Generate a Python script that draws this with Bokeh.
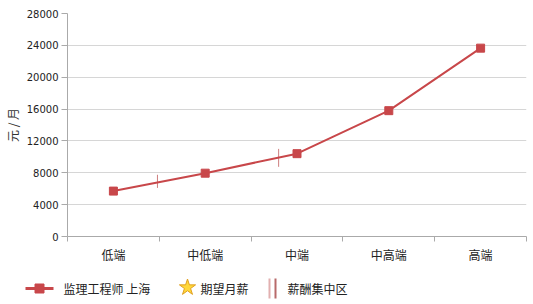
from bokeh.plotting import figure
from bokeh.layouts import column
from bokeh.models import Range1d, FixedTicker, NumeralTickFormatter
from bokeh.core.properties import value
from bokeh.embed import file_html
from bokeh.resources import INLINE

# Salary levels (yuan / month) per tier
categories = ["低端", "中低端", "中端", "中高端", "高端"]
salary = [5700, 7950, 10400, 15800, 23650]

# Salary concentration ranges: position along the tier axis, low and high values
range_pos = [0.98, 2.30]
range_low = [6100, 8750]
range_high = [7750, 11000]

y_ticks = [0, 4000, 8000, 12000, 16000, 20000, 24000, 28000]

series_name = "监理工程师 上海"
legend_labels = [series_name, "期望月薪", "薪酬集中区"]

CJK = "Noto Sans CJK SC"
RED = "#c8474a"

x_pos = [i + 0.5 for i in range(len(categories))]

p = figure(width=533, height=265, output_backend="svg", toolbar_location=None,
           x_range=Range1d(0, len(categories)), y_range=Range1d(0, 28000),
           min_border_left=66, min_border_right=7, min_border_top=13,
           min_border_bottom=28)
p.frame_align = False
p.outline_line_color = None
p.background_fill_color = "white"
p.border_fill_color = "white"

p.xgrid.grid_line_color = None
p.ygrid.grid_line_color = "#d6d6d6"
p.ygrid.ticker = FixedTicker(ticks=y_ticks)

# x axis: tick marks on tier boundaries, labels centred in each tier
xa = p.xaxis[0]
xa.ticker = FixedTicker(ticks=x_pos, minor_ticks=list(range(len(categories) + 1)))
xa.major_label_overrides = {x: c for x, c in zip(x_pos, categories)}
xa.major_tick_out = 0
xa.major_tick_in = 0
xa.minor_tick_out = 5
xa.minor_tick_in = 0
xa.minor_tick_line_color = "#aaaaaa"
xa.axis_line_color = "#aaaaaa"
xa.axis_line_width = 1
xa.major_label_standoff = 4
xa.major_label_text_font = CJK
xa.major_label_text_font_size = "12px"
xa.major_label_text_color = "#222222"

ya = p.yaxis[0]
ya.ticker = FixedTicker(ticks=y_ticks)
ya.formatter = NumeralTickFormatter(format="0")
ya.minor_tick_line_color = None
ya.major_tick_out = 6
ya.major_tick_in = 0
ya.major_tick_line_color = "#aaaaaa"
ya.axis_line_color = "#aaaaaa"
ya.major_label_standoff = 3
ya.major_label_text_font = "DejaVu Sans"
ya.major_label_text_font_size = "10px"
ya.major_label_text_color = "#222222"
ya.axis_label = "元 / 月"
ya.axis_label_text_font = CJK
ya.axis_label_text_font_size = "12px"
ya.axis_label_text_font_style = "normal"
ya.axis_label_text_color = "#333333"
ya.axis_label_standoff = 3

# concentration range markers
p.segment(x0=range_pos, y0=range_low, x1=range_pos, y1=range_high,
          line_color="#c97070", line_width=1, line_alpha=0.9)

# salary line
p.line(x_pos, salary, line_color=RED, line_width=2)
p.scatter(x_pos, salary, marker="square", size=8, fill_color=RED, line_color=RED)

# legend strip
lg = figure(width=533, height=39, output_backend="svg", toolbar_location=None,
            x_range=Range1d(0, 533), y_range=Range1d(39, 0),
            min_border=0, min_border_left=0, min_border_right=0,
            min_border_top=0, min_border_bottom=0)
lg.frame_align = False
lg.axis.visible = False
lg.grid.visible = False
lg.outline_line_color = None

ly = 23
lg.line([25, 53], [ly, ly], line_color=RED, line_width=3)
lg.scatter([39], [ly], marker="square", size=9, fill_color=RED, line_color=RED)
lg.scatter([187], [ly - 1], marker="star", size=17, fill_color="#ffd83a",
           line_color="#e0a020", line_width=1)
lg.segment(x0=[269, 275], y0=[ly - 10, ly - 10], x1=[269, 275], y1=[ly + 10, ly + 10],
           line_color=["#e2b0b0", "#b86a6a"], line_width=2)
lg.text(x=[63, 200, 287], y=[ly, ly, ly], text=legend_labels,
        text_baseline="middle", text_align="left",
        text_font=value(CJK), text_font_size="12px", text_color="#222222")

layout = column(p, lg, spacing=0)

open("out.html", "w").write(file_html(layout, INLINE))
